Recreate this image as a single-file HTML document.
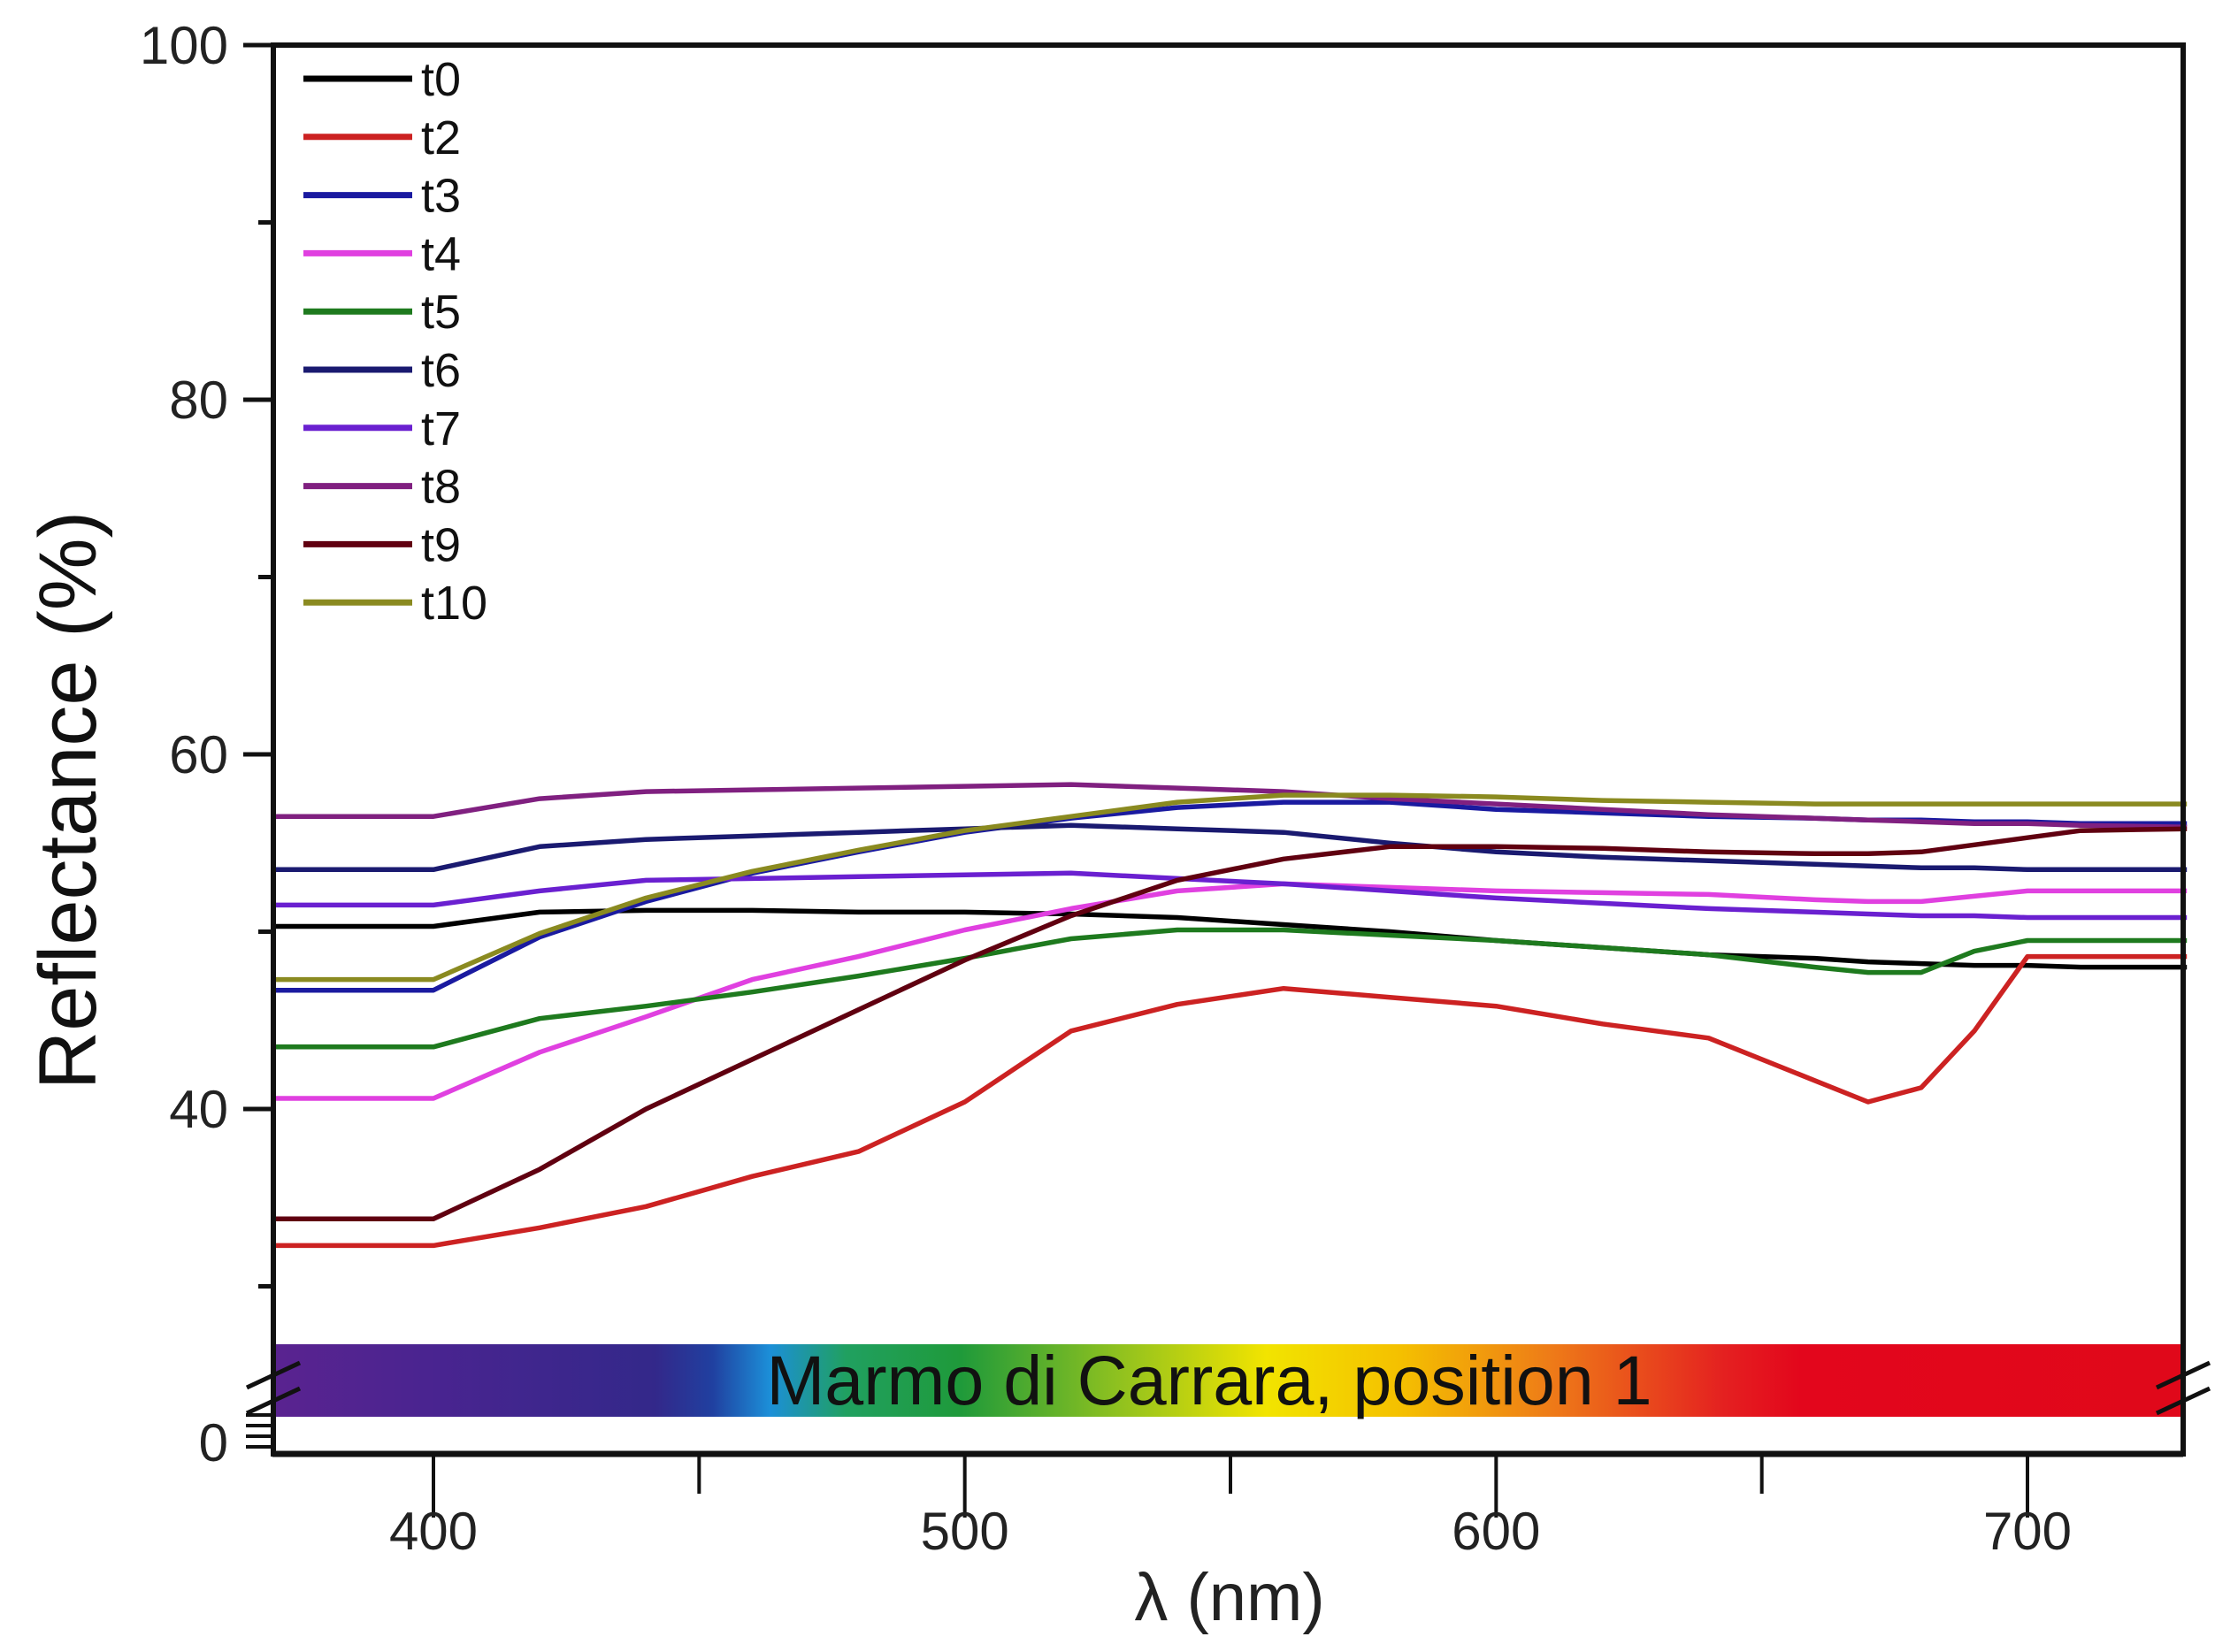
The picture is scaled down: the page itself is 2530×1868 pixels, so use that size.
<!DOCTYPE html>
<html><head><meta charset="utf-8"><style>
html,body{margin:0;padding:0;background:#fff;}
svg{display:block;font-family:"Liberation Sans",Arial,sans-serif;}
</style></head><body>
<svg id="chart" width="2530" height="1868" viewBox="0 0 2530 1868" xmlns="http://www.w3.org/2000/svg">
<defs>
<linearGradient id="spec" x1="0" x2="1" y1="0" y2="0">
<stop offset="0" stop-color="#5a2390"/>
<stop offset="0.08" stop-color="#4a2490"/>
<stop offset="0.2" stop-color="#33288a"/>
<stop offset="0.23" stop-color="#2040a0"/>
<stop offset="0.26" stop-color="#1c8fd8"/>
<stop offset="0.3" stop-color="#20a060"/>
<stop offset="0.36" stop-color="#1f9a3a"/>
<stop offset="0.44" stop-color="#8cc020"/>
<stop offset="0.52" stop-color="#f2e400"/>
<stop offset="0.59" stop-color="#f4c000"/>
<stop offset="0.67" stop-color="#ee7a18"/>
<stop offset="0.76" stop-color="#e42020"/>
<stop offset="0.8" stop-color="#e3061c"/>
<stop offset="1" stop-color="#e0081a"/>
</linearGradient>
</defs>
<g id="plot"></g>
</svg>
<script>
const wavelengths=[370,400,420,440,460,480,500,520,540,560,580,600,620,640,660,670,680,690,700,710,730];
const seriesNames=["t0","t2","t3","t4","t5","t6","t7","t8","t9","t10"];
const t0=[50.3,50.3,51.1,51.2,51.2,51.1,51.1,51.0,50.8,50.4,50.0,49.5,49.1,48.7,48.5,48.3,48.2,48.1,48.1,48.0,48.0];
const t2=[32.3,32.3,33.3,34.5,36.2,37.6,40.4,44.4,45.9,46.8,46.3,45.8,44.8,44.0,41.6,40.4,41.2,44.4,48.6,48.6,48.6];
const t3=[46.7,46.7,49.7,51.7,53.3,54.5,55.6,56.4,57.0,57.3,57.3,56.9,56.7,56.5,56.4,56.3,56.3,56.2,56.2,56.1,56.1];
const t4=[40.6,40.6,43.2,45.2,47.3,48.6,50.1,51.3,52.3,52.7,52.5,52.3,52.2,52.1,51.8,51.7,51.7,52.0,52.3,52.3,52.3];
const t5=[43.5,43.5,45.1,45.8,46.6,47.5,48.5,49.6,50.1,50.1,49.8,49.5,49.1,48.7,48.0,47.7,47.7,48.9,49.5,49.5,49.5];
const t6=[53.5,53.5,54.8,55.2,55.4,55.6,55.8,56.0,55.8,55.6,55.0,54.5,54.2,54.0,53.8,53.7,53.6,53.6,53.5,53.5,53.5];
const t7=[51.5,51.5,52.3,52.9,53.0,53.1,53.2,53.3,53.0,52.7,52.3,51.9,51.6,51.3,51.1,51.0,50.9,50.9,50.8,50.8,50.8];
const t8=[56.5,56.5,57.5,57.9,58.0,58.1,58.2,58.3,58.1,57.9,57.5,57.2,56.9,56.6,56.4,56.3,56.2,56.1,56.1,56.0,55.9];
const t9=[33.8,33.8,36.6,40.0,42.8,45.6,48.4,50.9,52.9,54.1,54.8,54.8,54.7,54.5,54.4,54.4,54.5,54.9,55.3,55.7,55.8];
const t10=[47.3,47.3,49.9,51.9,53.4,54.6,55.7,56.5,57.3,57.7,57.7,57.6,57.4,57.3,57.2,57.2,57.2,57.2,57.2,57.2,57.2];
const seriesValues=[t0,t2,t3,t4,t5,t6,t7,t8,t9,t10];
const seriesColors=["#000000","#cc2222","#1a1aa0","#e040e0","#1e7a1e","#1a1a70","#6a20d0","#802080","#600010","#8a8a20"];
const xTicks=[400,500,600,700];
const xMinorTicks=[450,550,650];
const yTicks=[40,60,80,100];
const yMinorTicks=[30,50,70,90];

const NS="http://www.w3.org/2000/svg";
const L=309,R=2468,T=51,B=1644;
const X=v=>490+(v-400)*(2292-490)/300;
const Y=v=>51+(100-v)*20.05;
const g=document.getElementById('plot');
function mk(tag,attrs,parent){const e=document.createElementNS(NS,tag);for(const k in attrs)e.setAttribute(k,attrs[k]);(parent||g).appendChild(e);return e;}

let band=mk('rect',{x:L,y:1520,width:R-L,height:82,fill:'url(#spec)'});


let bt=mk('text',{x:1367,y:1588,'font-size':79,'text-anchor':'middle',fill:'#111'});
bt.textContent='Marmo di Carrara, position 1';



seriesValues.forEach((vals,i)=>{
  const d=vals.map((v,j)=>(j?'L':'M')+X(wavelengths[j]).toFixed(1)+' '+Y(v).toFixed(1)).join(' ');
  const p=mk('path',{d:d,fill:'none',stroke:seriesColors[i],'stroke-width':5.5,'stroke-linejoin':'round'});
  
  
  const ly=89+65.8*i;
  const ll=mk('line',{x1:343,x2:466,y1:ly,y2:ly,stroke:seriesColors[i],'stroke-width':7});
  
  
  const lt=mk('text',{x:476,y:ly+19,'font-size':54,fill:'#111'});
  lt.textContent=seriesNames[i];
  
  
});

let fr=mk('path',{d:`M${L} ${T} H${R} V${B} H${L} Z`,fill:'none',stroke:'#111','stroke-width':6});


let bl=mk('line',{x1:L-1,x2:R,y1:B,y2:B,stroke:'#111','stroke-width':7});



yTicks.forEach(v=>{
  const t=mk('line',{x1:275,x2:L,y1:Y(v),y2:Y(v),stroke:'#111','stroke-width':5});
  
  
  const l=mk('text',{x:258,y:Y(v)+21,'font-size':60,'text-anchor':'end',fill:'#222'});
  l.textContent=v;
  
  
});
yMinorTicks.forEach(v=>{
  const t=mk('line',{x1:292,x2:L,y1:Y(v),y2:Y(v),stroke:'#111','stroke-width':5});
  
  
});
let z=mk('text',{x:258,y:1652,'font-size':60,'text-anchor':'end',fill:'#222'});
z.textContent='0';


[1600,1612,1624,1636].forEach(yy=>{
  const h=mk('line',{x1:278,x2:L,y1:yy,y2:yy,stroke:'#111','stroke-width':4});
  
  
});
[L,R].forEach(bx=>{
  [1555,1584].forEach(yy=>{
    const b=mk('line',{x1:bx-30,x2:bx+30,y1:yy+14,y2:yy-14,stroke:'#111','stroke-width':5});
    
    
  });
});

xTicks.forEach(v=>{
  const t=mk('line',{x1:X(v),x2:X(v),y1:B,y2:B+72,stroke:'#111','stroke-width':4});
  
  
  const l=mk('text',{x:X(v),y:1752,'font-size':60,'text-anchor':'middle',fill:'#222'});
  l.textContent=v;
  
  
});
xMinorTicks.forEach(v=>{
  const t=mk('line',{x1:X(v),x2:X(v),y1:B,y2:B+45,stroke:'#111','stroke-width':4});
  
  
});

let xt=mk('text',{x:1390,y:1832,'font-size':76,'text-anchor':'middle',fill:'#222'});
xt.textContent='λ (nm)';


let yt=mk('text',{x:0,y:0,'font-size':92,'text-anchor':'middle',fill:'#111',transform:'translate(108,905) rotate(-90)'});
yt.textContent='Reflectance (%)';


</script>
</body></html>
